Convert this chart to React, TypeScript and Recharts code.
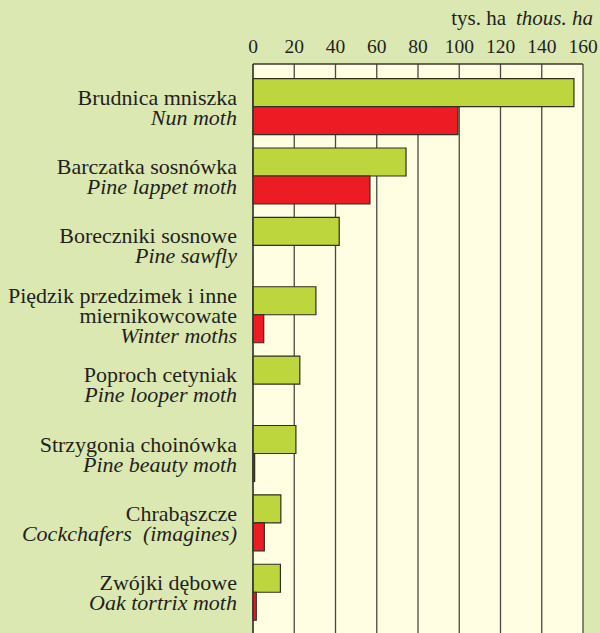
import { Bar, BarChart, CartesianGrid, XAxis, YAxis } from "recharts";

const polishNames = [
  ["Brudnica mniszka"],
  ["Barczatka sosnówka"],
  ["Boreczniki sosnowe"],
  ["Piędzik przedzimek i inne", "miernikowcowate"],
  ["Poproch cetyniak"],
  ["Strzygonia choinówka"],
  ["Chrabąszcze"],
  ["Zwójki dębowe"],
];
const englishNames = [
  "Nun moth",
  "Pine lappet moth",
  "Pine sawfly",
  "Winter moths",
  "Pine looper moth",
  "Pine beauty moth",
  "Cockchafers  (imagines)",
  "Oak tortrix moth",
];
const greenValues = [155.6, 74.2, 41.8, 30.5, 22.7, 20.8, 13.5, 13.3];
const redValues = [99.4, 56.7, null, 5.2, null, 0.8, 5.5, 1.6];
const xTicks = [0, 20, 40, 60, 80, 100, 120, 140, 160];

const data = englishNames.map((en, i) => ({
  name: en,
  green: greenValues[i],
  red: redValues[i],
}));

const FONT = "Liberation Serif, DejaVu Serif, serif";
const TEXT = "#231f20";

const CategoryTick = (props: any) => {
  const { x, y, payload } = props;
  const i = payload.index;
  const lines = [...polishNames[i].map((t) => ({ t, it: false })), { t: englishNames[i], it: true }];
  const first = y - (lines.length - 1) * 10 + 8;
  return (
    <text x={x} y={first} textAnchor="end" fill={TEXT} style={{ fontFamily: FONT, fontSize: 22, whiteSpace: "pre" }}>
      {lines.map((l, k) => (
        <tspan key={k} x={x} y={first + k * 20} style={{ fontStyle: l.it ? "italic" : "normal" }}>
          {l.t}
        </tspan>
      ))}
    </text>
  );
};

export default function App() {
  return (
    <div style={{ position: "absolute", left: 0, top: 0, width: 600, height: 633, background: "#dbe8b1", overflow: "hidden", fontFamily: FONT }}>
      <svg width={600} height={40} style={{ position: "absolute", left: 0, top: 0 }}>
        <text x={593} y={25} textAnchor="end" fill={TEXT} style={{ fontFamily: FONT, fontSize: 21 }}>
          <tspan>tys. ha</tspan>
          <tspan dx={10} style={{ fontStyle: "italic" }}>thous. ha</tspan>
        </text>
      </svg>
      <BarChart
        width={600}
        height={633}
        data={data}
        layout="vertical"
        margin={{ top: 34, right: 17, bottom: 0, left: 0 }}
        barGap={0}
        barCategoryGap={6.6}
      >
        <CartesianGrid horizontal={false} fill="#fffde2" stroke="#4a4a44" strokeWidth={1.3} fillOpacity={1} />
        <XAxis
          type="number"
          orientation="top"
          height={30}
          domain={[0, 160]}
          ticks={xTicks}
          tickLine={false}
          tickSize={0}
          tickMargin={11}
          axisLine={{ stroke: "#3a3a34", strokeWidth: 1.3 }}
          tick={{ fontFamily: FONT, fontSize: 19.5, fill: TEXT, style: { fontFamily: FONT } }}
          interval={0}
        />
        <YAxis
          type="category"
          dataKey="name"
          width={253}
          tickLine={false}
          tickSize={0}
          tickMargin={16}
          axisLine={{ stroke: "#3a3a34", strokeWidth: 1.3 }}
          padding={{ top: 8, bottom: 6 }}
          tick={<CategoryTick />}
          interval={0}
        />
        <Bar dataKey="green" fill="#bed63e" stroke="#2f2f25" strokeWidth={1.2} isAnimationActive={false} />
        <Bar dataKey="red" fill="#ed1c24" stroke="#2f2f25" strokeWidth={1.2} isAnimationActive={false} />
      </BarChart>
    </div>
  );
}
